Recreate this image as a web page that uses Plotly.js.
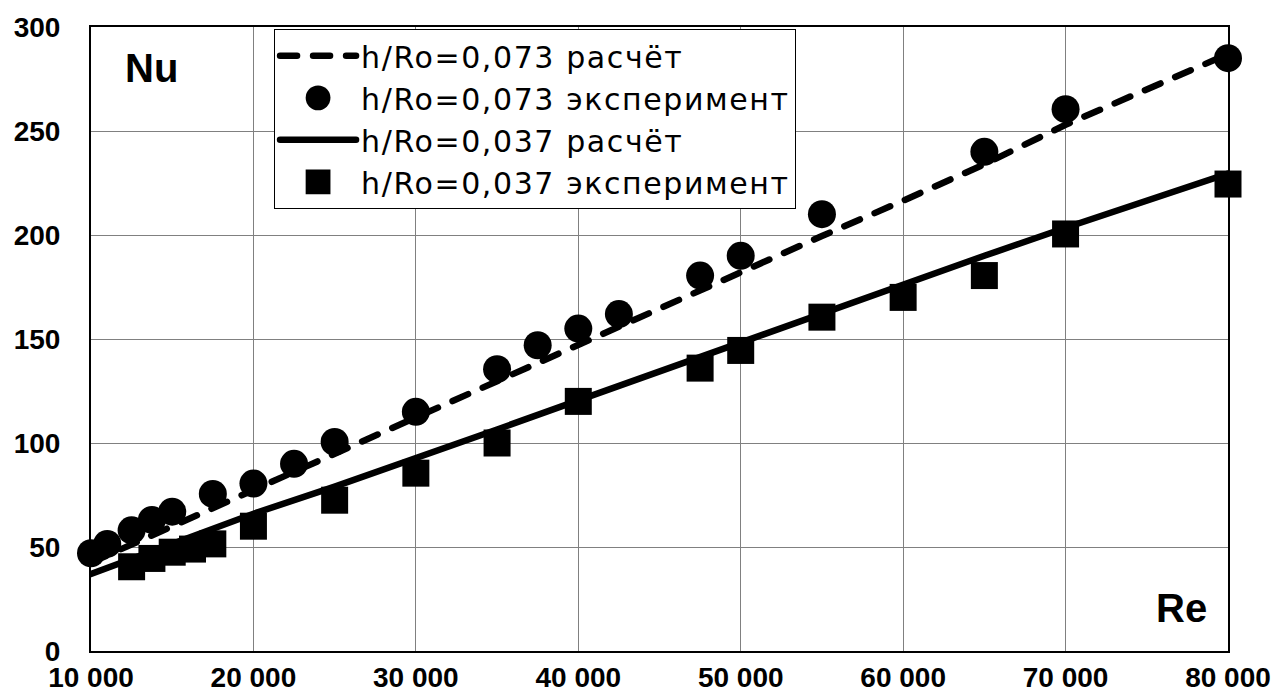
<!DOCTYPE html>
<html>
<head>
<meta charset="utf-8">
<script src="https://cdn.plot.ly/plotly-3.0.1.min.js"></script>
<style>
  html, body { margin: 0; padding: 0; background: #fff; }
  #chart { width: 1278px; height: 693px; }
  .js-line { stroke-linecap: round; }
  .legendtext { letter-spacing: 1.6px; }
</style>
</head>
<body>
<div id="chart"></div>
<script>
// Calculated curves (Re grid)
const reCalc = [10000, 15000, 20000, 25000, 30000, 35000, 40000, 45000, 50000, 55000, 60000, 65000, 70000, 75000, 80000];
const nuCalc073 = [42.5, 60, 77.5, 95, 112.8, 130.3, 147.8, 165.2, 182.5, 199.5, 216.5, 234, 253, 270, 287];
const nuCalc037 = [37, 51.5, 66, 79, 92.5, 106.5, 120.5, 134.5, 148, 162, 176, 190, 203.5, 216.5, 229.5];

// Experimental points h/Ro = 0,073
const reExp073 = [10000, 11000, 12500, 13750, 15000, 17500, 20000, 22500, 25000, 30000, 35000, 37500, 40000, 42500, 47500, 50000, 55000, 65000, 70000, 80000];
const nuExp073 = [47, 51.5, 58, 63, 67, 75.5, 80.5, 90, 100.5, 115, 135.5, 147, 155, 162, 180.5, 190, 210, 240, 260.5, 285];

// Experimental points h/Ro = 0,037
const reExp037 = [12500, 13750, 15000, 16250, 17500, 20000, 25000, 30000, 35000, 40000, 47500, 50000, 55000, 60000, 65000, 70000, 80000];
const nuExp037 = [40.5, 44.5, 47.5, 49, 51.5, 60, 72.5, 85.5, 100, 120, 136, 144.5, 160.5, 170, 180.5, 200.5, 224.5];

// Series names
const names = ["h/Ro=0,073 расчёт", "h/Ro=0,073 эксперимент", "h/Ro=0,037 расчёт", "h/Ro=0,037 эксперимент"];

// Tick labels
const xTickVals = [10000, 20000, 30000, 40000, 50000, 60000, 70000, 80000];
const xTickText = ["10 000", "20 000", "30 000", "40 000", "50 000", "60 000", "70 000", "80 000"];
const yTickVals = [0, 50, 100, 150, 200, 250, 300];
const yTickText = ["0", "50", "100", "150", "200", "250", "300"];

const boldFont = {family: "Liberation Sans, Arial, sans-serif", size: 28, color: "#000", weight: "bold"};

const traces = [
  {x: reCalc, y: nuCalc073, name: names[0], mode: "lines", type: "scatter",
   line: {color: "#000", width: 6.5, dash: "17px,16px"}, cliponaxis: false},
  {x: reExp073, y: nuExp073, name: names[1], mode: "markers", type: "scatter",
   marker: {symbol: "circle", size: 28, color: "#000"}, cliponaxis: false},
  {x: reCalc, y: nuCalc037, name: names[2], mode: "lines", type: "scatter",
   line: {color: "#000", width: 6.5}, cliponaxis: false},
  {x: reExp037, y: nuExp037, name: names[3], mode: "markers", type: "scatter",
   marker: {symbol: "square", size: 27, color: "#000"}, cliponaxis: false}
];

const layout = {
  width: 1278, height: 693,
  margin: {l: 91, r: 50, t: 27, b: 42, pad: 0},
  paper_bgcolor: "#fff", plot_bgcolor: "#fff",
  showlegend: true,
  legend: {
    x: 0.161, y: 0.997, xanchor: "left", yanchor: "top",
    bgcolor: "#fff", bordercolor: "#000", borderwidth: 1,
    font: {family: "DejaVu Sans, sans-serif", size: 30, color: "#000"},
    itemwidth: 76, tracegroupgap: 0
  },
  xaxis: {
    range: [10000, 80000], tickvals: xTickVals, ticktext: xTickText,
    showgrid: true, gridcolor: "#808080", gridwidth: 1,
    showline: true, linecolor: "#000", linewidth: 2, mirror: true,
    zeroline: false, ticks: "", tickfont: boldFont, ticklabelstandoff: 0
  },
  yaxis: {
    range: [0, 300], tickvals: yTickVals, ticktext: yTickText,
    showgrid: true, gridcolor: "#808080", gridwidth: 1,
    showline: true, linecolor: "#000", linewidth: 2, mirror: true,
    zeroline: false, ticks: "", tickfont: boldFont, ticklabelstandoff: 23
  },
  annotations: [
    {text: "Nu", xref: "paper", yref: "paper", x: 0.0528, y: 0.935, showarrow: false,
     xanchor: "center", yanchor: "middle",
     font: {family: "Liberation Sans, Arial, sans-serif", size: 40, color: "#000", weight: "bold"}},
    {text: "Re", xref: "paper", yref: "paper", x: 0.9587, y: 0.069, showarrow: false,
     xanchor: "center", yanchor: "middle",
     font: {family: "Liberation Sans, Arial, sans-serif", size: 40, color: "#000", weight: "bold"}}
  ]
};

Plotly.newPlot("chart", traces, layout, {staticPlot: true, displayModeBar: false}).then(function (gd) {
  // enlarge legend marker symbols (Plotly caps them at 16px)
  gd.querySelectorAll(".legend path.scatterpts").forEach(function (p) {
    const t = p.getAttribute("transform") || "";
    p.setAttribute("transform", t + " scale(1.55)");
  });
});
</script>
</body>
</html>
